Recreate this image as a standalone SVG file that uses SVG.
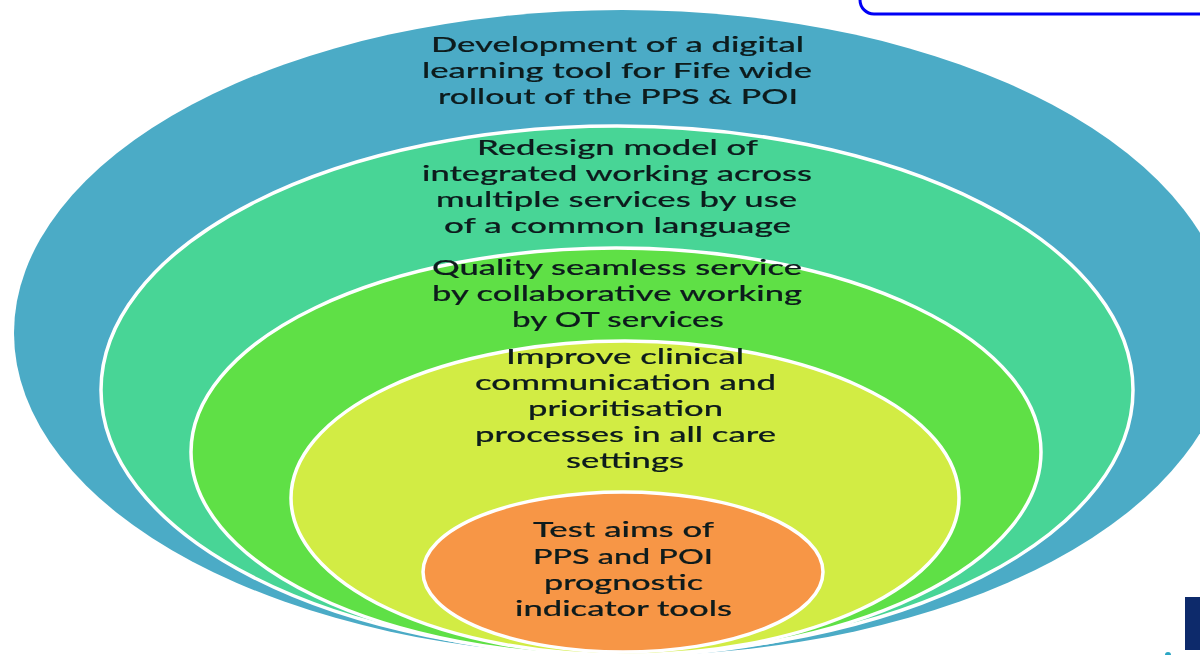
<svg xmlns="http://www.w3.org/2000/svg" width="1200" height="655" viewBox="0 0 1200 655">
<defs><filter id="soft" x="-5%" y="-5%" width="110%" height="110%"><feGaussianBlur stdDeviation="0.35"/></filter></defs>
<style>
.r{stroke:#fff;stroke-width:3.5}
text{font-family:"Lato","Liberation Sans",sans-serif;font-size:21.5px;font-weight:500;fill:#0b1a1c;stroke:#0b1a1c;stroke-width:.15;filter:url(#soft)}
</style>
<rect width="1200" height="655" fill="#fff"/>
<rect id="frame" x="860" y="-30" width="380" height="44" rx="14" fill="#fff" stroke="#0000f5" stroke-width="3"/>
<g id="logo"><rect x="1185" y="597" width="15" height="53" fill="#0d2a6b"/><circle cx="1168" cy="655" r="3" fill="#2aa6c4"/></g>
<g id="node-1"><ellipse cx="622" cy="333" rx="608" ry="323" fill="#4babc6"/>
<text x="431" y="52" textLength="373" lengthAdjust="spacingAndGlyphs">Development of a digital</text>
<text x="422" y="78" textLength="390" lengthAdjust="spacingAndGlyphs">learning tool for Fife wide</text>
<text x="438" y="104" textLength="360" lengthAdjust="spacingAndGlyphs">rollout of the PPS &amp; POI</text></g>
<g id="node-2"><ellipse class="r" cx="617" cy="390" rx="516" ry="264" fill="#48d596"/>
<text x="477" y="155" textLength="281" lengthAdjust="spacingAndGlyphs">Redesign model of</text>
<text x="422" y="181" textLength="390" lengthAdjust="spacingAndGlyphs">integrated working across</text>
<text x="436" y="207" textLength="361" lengthAdjust="spacingAndGlyphs">multiple services by use</text>
<text x="444" y="233" textLength="347" lengthAdjust="spacingAndGlyphs">of a common language</text></g>
<g id="node-3"><ellipse class="r" cx="616" cy="452" rx="425" ry="204" fill="#5fe046"/>
<text x="432" y="275" textLength="370" lengthAdjust="spacingAndGlyphs">Quality seamless service</text>
<text x="432" y="301" textLength="370" lengthAdjust="spacingAndGlyphs">by collaborative working</text>
<text x="512" y="327" textLength="212" lengthAdjust="spacingAndGlyphs">by OT services</text></g>
<g id="node-4"><ellipse class="r" cx="625" cy="498" rx="334" ry="157" fill="#d2ec44"/>
<text x="506" y="364" textLength="238" lengthAdjust="spacingAndGlyphs">Improve clinical</text>
<text x="475" y="390" textLength="301" lengthAdjust="spacingAndGlyphs">communication and</text>
<text x="528" y="416" textLength="195" lengthAdjust="spacingAndGlyphs">prioritisation</text>
<text x="475" y="442" textLength="301" lengthAdjust="spacingAndGlyphs">processes in all care</text>
<text x="566" y="468" textLength="118" lengthAdjust="spacingAndGlyphs">settings</text></g>
<g id="node-5"><ellipse class="r" cx="623" cy="572" rx="200" ry="80" fill="#f79646"/>
<text x="533" y="537" textLength="181" lengthAdjust="spacingAndGlyphs">Test aims of</text>
<text x="533" y="564" textLength="180" lengthAdjust="spacingAndGlyphs">PPS and POI</text>
<text x="544" y="590" textLength="159" lengthAdjust="spacingAndGlyphs">prognostic</text>
<text x="515" y="616" textLength="217" lengthAdjust="spacingAndGlyphs">indicator tools</text></g>
<g id="connectors"/>
</svg>
